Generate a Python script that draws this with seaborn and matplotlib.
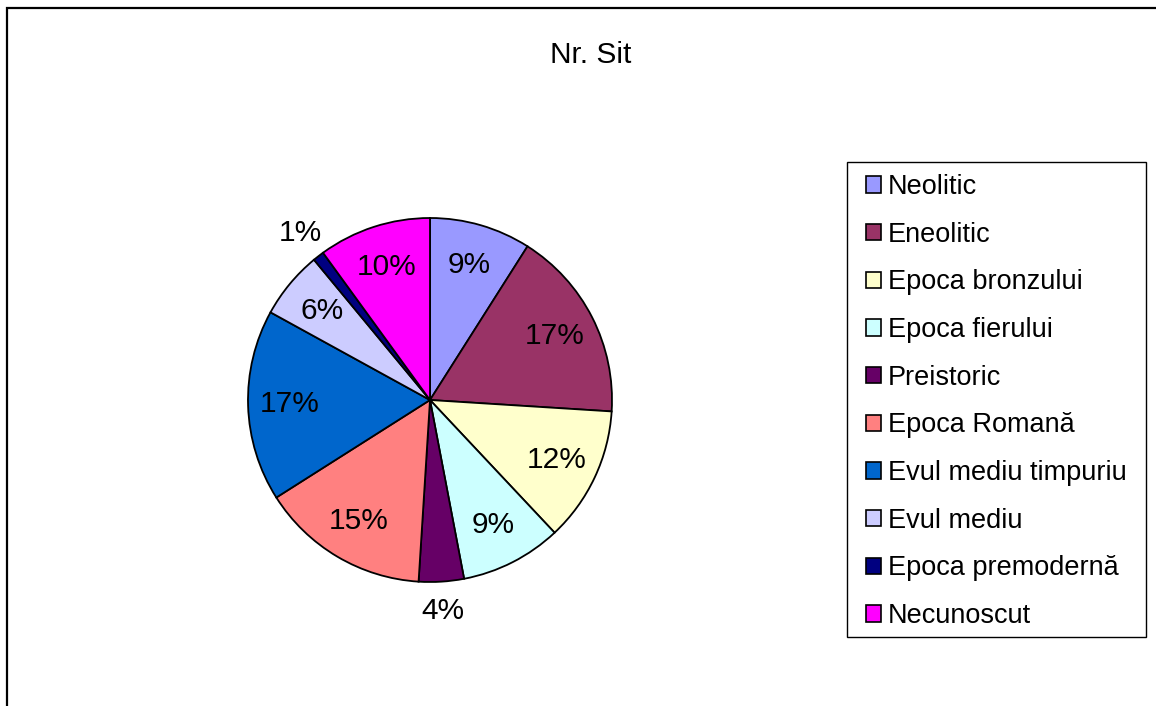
import numpy as np
import seaborn as sns
import matplotlib.pyplot as plt
from matplotlib.patches import Rectangle

# date: procente pe perioade
perioade = ['Neolitic', 'Eneolitic', 'Epoca bronzului', 'Epoca fierului', 'Preistoric',
            'Epoca Romană', 'Evul mediu timpuriu', 'Evul mediu', 'Epoca premodernă', 'Necunoscut']
procente = [9, 17, 12, 9, 4, 15, 17, 6, 1, 10]
culori = ['#9999FF', '#993366', '#FFFFCC', '#CCFFFF', '#660066',
          '#FF8080', '#0066CC', '#CCCCFF', '#000080', '#FF00FF']
etichete_exterioare = ['Preistoric', 'Epoca premodernă']

sns.set_theme(style='white')
plt.rcParams['font.family'] = ['Liberation Sans', 'DejaVu Sans']
plt.rcParams['text.color'] = 'black'

W, H = 1156, 706
fig = plt.figure(figsize=(W / 100, H / 100), dpi=100)
fig.patch.set_facecolor('white')

# chenarul exterior (taiat in dreapta si jos)
fig.patches.append(Rectangle((7 / W, -0.05), 1.2, 1 - 8 / H + 0.05,
                             transform=fig.transFigure, fill=False,
                             edgecolor='black', linewidth=1.6))

fig.text(591 / W, 1 - 55 / H, 'Nr. Sit', ha='center', va='center', fontsize=21.5)

ax = fig.add_axes([248 / W, 124 / H, 364 / W, 364 / H])
wedges, texts = ax.pie(procente, colors=culori, startangle=90, counterclock=False,
                       wedgeprops=dict(edgecolor='black', linewidth=1.3))
ax.set_xlim(-1, 1)
ax.set_ylim(-1, 1)
ax.set_aspect('equal')

total = sum(procente)
for w, nume, val in zip(wedges, perioade, procente):
    unghi = np.deg2rad((w.theta1 + w.theta2) / 2)
    r = 1.16 if nume in etichete_exterioare else 0.77
    ax.text(r * np.cos(unghi), r * np.sin(unghi), f'{val / total * 100:.0f}%',
            ha='center', va='center', fontsize=21.5, color='black')

# legenda (chenarul desenat separat)
leg = fig.legend(wedges, perioade, loc='upper left',
                 bbox_to_anchor=(866 / W, 1 - 174 / H),
                 fontsize=19.5, frameon=False,
                 handlelength=0.55, handleheight=0.55, handletextpad=0.25,
                 labelspacing=0.80, borderpad=0, borderaxespad=0)
for h in leg.legend_handles:
    h.set_linewidth(1.2)
fig.patches.append(Rectangle((847 / W, 1 - 637 / H), (1146 - 847) / W, (637 - 162) / H,
                             transform=fig.transFigure, fill=False,
                             edgecolor='black', linewidth=1.0))

fig.savefig('out.png', dpi=100)
